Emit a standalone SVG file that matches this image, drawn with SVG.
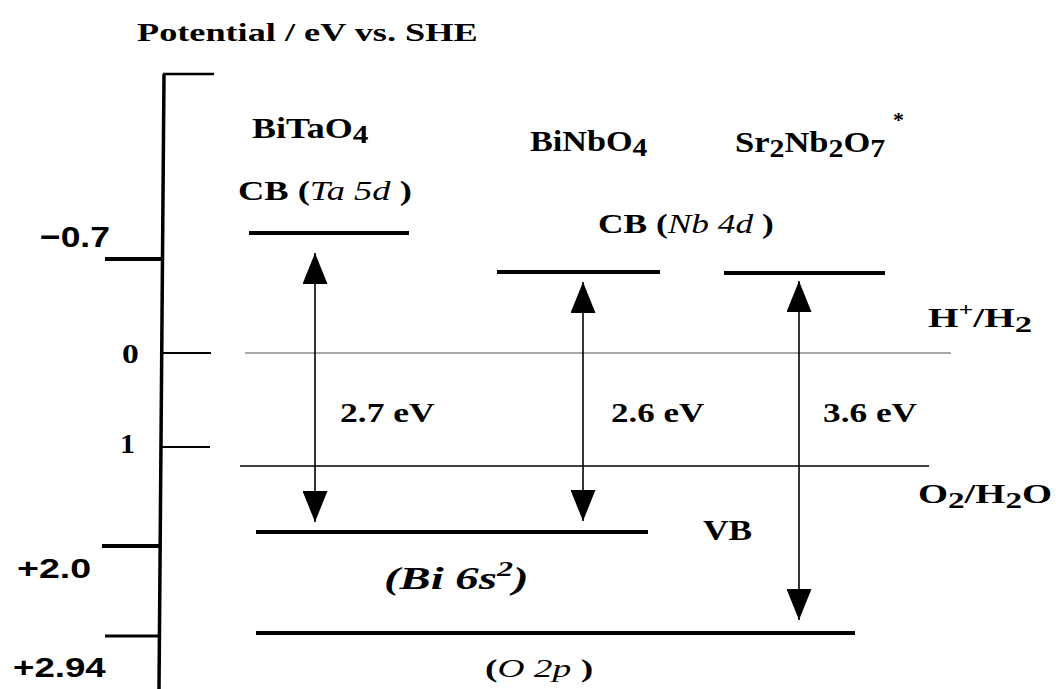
<svg xmlns="http://www.w3.org/2000/svg" width="1056" height="689" viewBox="0 0 1056 689">
<style>
.s{font-family:"Liberation Serif","Times New Roman",serif;font-weight:bold;fill:#000}
.a{font-family:"Liberation Sans",Arial,sans-serif;font-weight:bold;fill:#000}
.it{font-style:italic;font-weight:normal}
.bi{font-style:italic;font-weight:bold}
.lv{stroke:#000;stroke-width:4;fill:none}
.tk{stroke:#000;fill:none}
.con{stroke:#000;stroke-width:1.6;fill:none;marker-start:url(#ah);marker-end:url(#ah)}
</style>
<defs>
<marker id="ah" markerUnits="userSpaceOnUse" markerWidth="31" markerHeight="25" refX="31" refY="12.5" orient="auto-start-reverse">
<path d="M0,0 L31,12.5 L0,25 Z" fill="#000"/>
</marker>
</defs>
<rect width="1056" height="689" fill="#fff"/>

<g id="axis">
<text class="s" font-size="25" transform="translate(137,41) scale(1.45,1)">Potential / eV vs. SHE</text>
<line class="tk" x1="164" y1="74" x2="159" y2="689" stroke-width="3.5"/>
<line class="tk" x1="163" y1="74" x2="214" y2="74" stroke-width="2.5"/>
<line class="tk" x1="105" y1="259" x2="164" y2="259" stroke-width="4"/>
<line class="tk" x1="163" y1="353" x2="211" y2="353" stroke-width="2"/>
<line class="tk" x1="162" y1="447" x2="210" y2="447" stroke-width="2"/>
<line class="tk" x1="102" y1="546" x2="160" y2="546" stroke-width="4"/>
<line class="tk" x1="105" y1="636" x2="160" y2="636" stroke-width="3"/>
<text class="a" font-size="30" transform="translate(40,247) scale(1.18,1)">−0.7</text>
<text class="s" font-size="28" transform="translate(122,363) scale(1.2,1)">0</text>
<text class="s" font-size="28" transform="translate(120,453) scale(1.07,1)">1</text>
<text class="a" font-size="28" transform="translate(17,578) scale(1.34,1)">+2.0</text>
<text class="a" font-size="28" transform="translate(13,677) scale(1.31,1)">+2.94</text>
</g>

<g id="redox">
<line x1="245" y1="353" x2="951" y2="353" stroke="#a8a8a8" stroke-width="2"/>
<line x1="240" y1="466" x2="929" y2="466" stroke="#000" stroke-width="1.6"/>
<text class="s" font-size="27" transform="translate(928,327) scale(1.45,1)">H<tspan font-size="18" dy="-11">+</tspan><tspan dy="11">/H</tspan><tspan font-size="24" dy="5">2</tspan></text>
<text class="s" font-size="28" transform="translate(918,503) scale(1.38,1)">O<tspan font-size="24" dy="5">2</tspan><tspan dy="-5">/H</tspan><tspan font-size="24" dy="5">2</tspan><tspan dy="-5">O</tspan></text>
</g>

<g id="bitao4">
<text class="s" font-size="30" transform="translate(252,138) scale(1.2,1)">BiTaO<tspan font-size="26" dy="5">4</tspan></text>
<text class="s" font-size="27" transform="translate(238,200) scale(1.35,1)">CB (<tspan class="it">Ta 5d</tspan> )</text>
<line class="lv" x1="249" y1="233" x2="409" y2="233"/>
<text class="s" font-size="28" transform="translate(340,422) scale(1.27,1)">2.7 eV</text>
</g>

<g id="binbo4">
<text class="s" font-size="30" transform="translate(530,151) scale(1.14,1)">BiNbO<tspan font-size="26" dy="5">4</tspan></text>
<line class="lv" x1="497" y1="272" x2="660" y2="272"/>
<text class="s" font-size="28" transform="translate(611,422) scale(1.25,1)">2.6 eV</text>
</g>

<g id="sr2nb2o7">
<text class="s" font-size="30" transform="translate(735,152) scale(1.15,1)">Sr<tspan font-size="26" dy="5">2</tspan><tspan dy="-5">Nb</tspan><tspan font-size="26" dy="5">2</tspan><tspan dy="-5">O</tspan><tspan font-size="26" dy="5">7</tspan></text>
<text class="s" font-size="22" font-weight="normal" x="893" y="127">*</text>
<line class="lv" x1="724" y1="273" x2="885" y2="273"/>
<text class="s" font-size="28" transform="translate(823,422) scale(1.26,1)">3.6 eV</text>
</g>

<g id="cb-nb4d">
<text class="s" font-size="27" transform="translate(598,233) scale(1.31,1)">CB (<tspan class="it">Nb 4d</tspan> )</text>
</g>

<g id="vb">
<line class="lv" x1="256" y1="532" x2="648" y2="532"/>
<line class="lv" x1="256" y1="633" x2="855" y2="633"/>
<text class="s" font-size="30" transform="translate(703,540) scale(1.18,1)">VB</text>
<text class="s bi" font-size="32" transform="translate(384,589) scale(1.46,1)">(Bi 6s<tspan font-size="22" dy="-13">2</tspan><tspan dy="13">)</tspan></text>
<text class="s" font-size="26" font-weight="normal" transform="translate(485,677) scale(1.44,1)">(<tspan class="it">O 2p</tspan> )</text>
</g>

<g id="connectors">
<line class="con" x1="315" y1="253" x2="315" y2="522"/>
<line class="con" x1="583" y1="282" x2="583" y2="521"/>
<line class="con" x1="799" y1="281" x2="799" y2="620"/>
</g>
</svg>
